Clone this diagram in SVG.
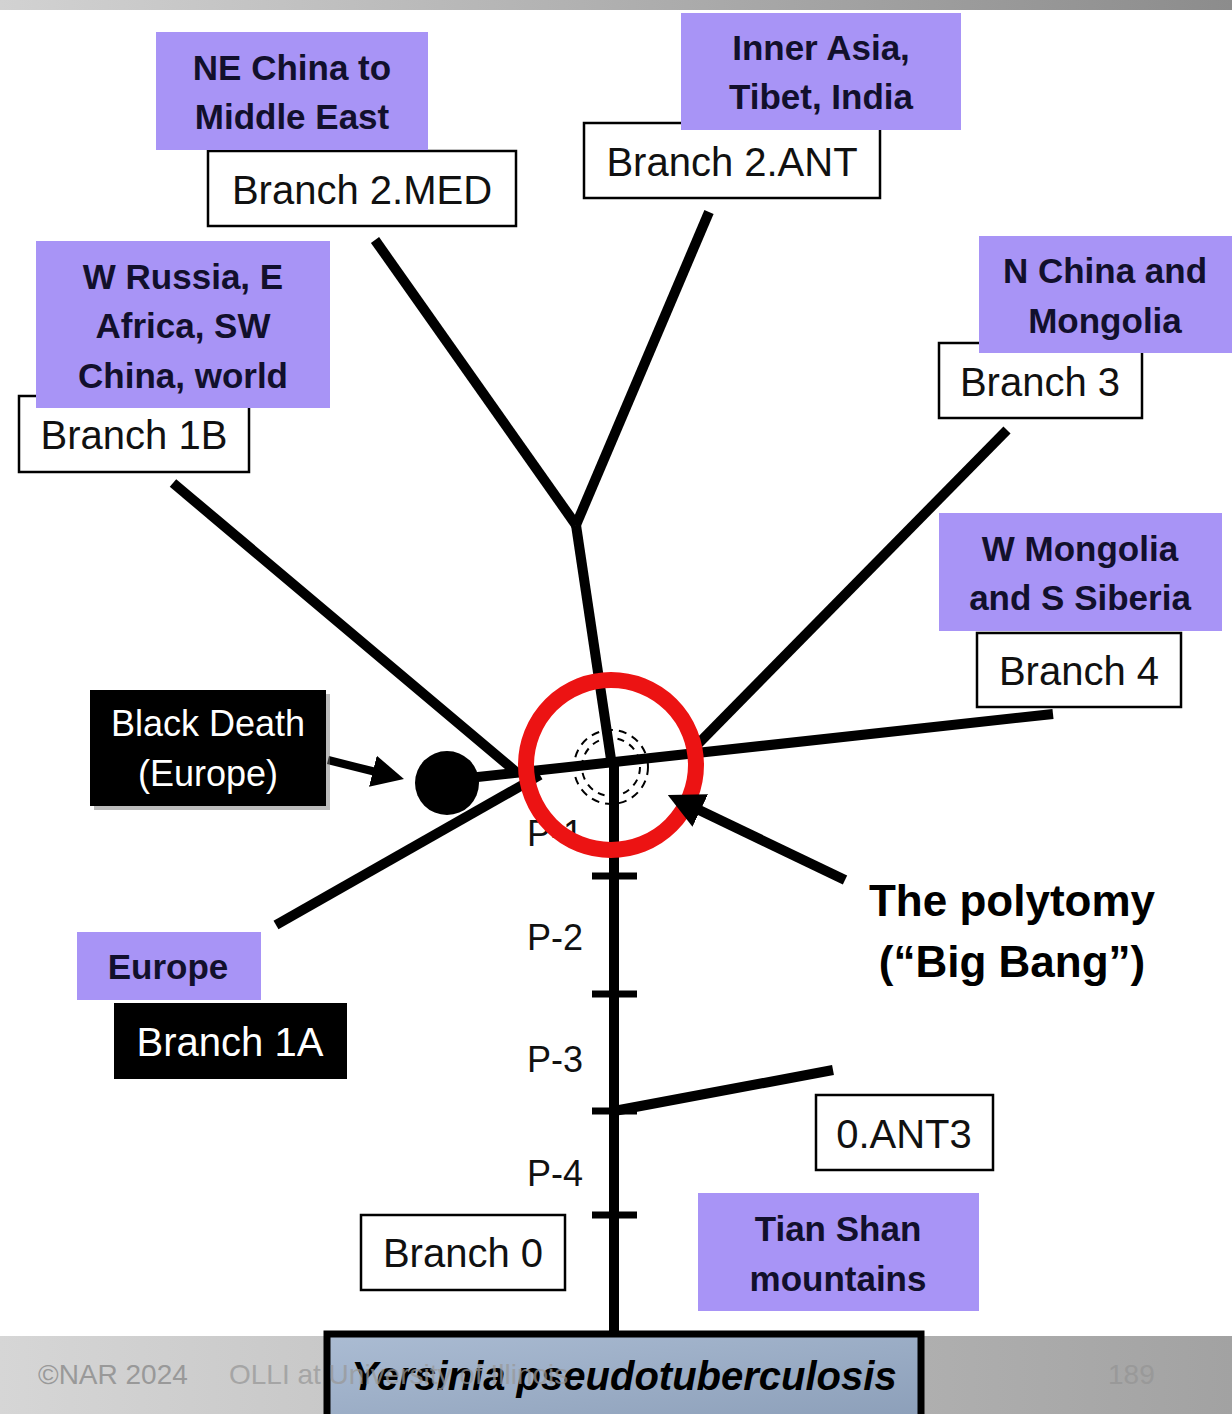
<svg xmlns="http://www.w3.org/2000/svg" width="1232" height="1414" viewBox="0 0 1232 1414">
<defs>
<linearGradient id="topbar" x1="0" y1="0" x2="1" y2="0"><stop offset="0" stop-color="#d2d2d2"/><stop offset="1" stop-color="#8c8c8c"/></linearGradient>
<linearGradient id="footbar" x1="0" y1="0" x2="1" y2="0"><stop offset="0" stop-color="#d6d6d6"/><stop offset="1" stop-color="#a2a2a2"/></linearGradient>
<linearGradient id="ybox" x1="0" y1="0" x2="1" y2="1"><stop offset="0" stop-color="#abbcd3"/><stop offset="1" stop-color="#8c9fb9"/></linearGradient>
<marker id="ah" viewBox="0 0 10 10" refX="1" refY="5" markerWidth="36" markerHeight="36" markerUnits="userSpaceOnUse" orient="auto"><path d="M0,0 L10,5 L0,10 z" fill="#000"/></marker>
<marker id="ah2" viewBox="0 0 10 10" refX="1" refY="5" markerWidth="32" markerHeight="32" markerUnits="userSpaceOnUse" orient="auto"><path d="M0,0 L10,5 L0,10 z" fill="#000"/></marker>
</defs>
<style>
.pb{fill:#a894f6}
.wb{fill:#fff;stroke:#000;stroke-width:2.5}
.bb{fill:#000}
.pt{font-family:"Liberation Sans",Arial,sans-serif;font-weight:bold;font-size:35px;fill:#12102c;text-anchor:middle}
.bt{font-family:"Liberation Sans",Arial,sans-serif;font-size:40px;fill:#111;text-anchor:middle}
.wt{font-family:"Liberation Sans",Arial,sans-serif;font-size:36px;fill:#fff;text-anchor:middle}
.br{stroke:#000;stroke-width:10;fill:none}
.tk{stroke:#000;stroke-width:7}
.pl{font-family:"Liberation Sans",Arial,sans-serif;font-size:36px;fill:#111}
.ft{font-family:"Liberation Sans",Arial,sans-serif;font-size:28px;fill:#999}
</style>
<rect x="0" y="0" width="1232" height="1414" fill="#fff"/>
<rect x="0" y="0" width="1232" height="10" fill="url(#topbar)"/>
<rect x="0" y="1336" width="1232" height="78" fill="url(#footbar)"/>

<g id="connectors">
<line class="br" x1="709" y1="212" x2="576" y2="525"/>
<line class="br" x1="375" y1="240" x2="576" y2="525"/>
<line class="br" x1="576" y1="525" x2="612" y2="766"/>
<line class="br" x1="173" y1="483" x2="515" y2="771"/>
<line class="br" x1="1007" y1="430" x2="696" y2="746"/>
<line class="br" x1="450" y1="780" x2="1053" y2="714"/>
<line class="br" x1="276" y1="925" x2="540" y2="775"/>
<line class="br" x1="614" y1="762" x2="614" y2="1334"/>
<line class="br" x1="614" y1="1111" x2="833" y2="1070"/>
<line class="tk" x1="592" y1="876" x2="637" y2="876"/>
<line class="tk" x1="592" y1="994" x2="637" y2="994"/>
<line class="tk" x1="592" y1="1111" x2="637" y2="1111"/>
<line class="tk" x1="592" y1="1215" x2="637" y2="1215"/>
<circle cx="447" cy="783" r="32" fill="#000"/>
</g>

<g id="p-labels">
<text class="pl" x="527" y="846">P-1</text>
<text class="pl" x="527" y="950">P-2</text>
<text class="pl" x="527" y="1072">P-3</text>
<text class="pl" x="527" y="1186">P-4</text>
</g>

<g id="polytomy-circle">
<circle cx="611" cy="767" r="37" fill="none" stroke="#000" stroke-width="2" stroke-dasharray="8,6"/>
<circle cx="611" cy="767" r="29" fill="none" stroke="#000" stroke-width="2" stroke-dasharray="7,6"/>
<circle cx="611" cy="765" r="85" fill="none" stroke="#ec1313" stroke-width="16"/>
</g>

<g id="arrows">
<line x1="328" y1="760" x2="376" y2="772" stroke="#000" stroke-width="8" marker-end="url(#ah2)"/>
<line x1="845" y1="880" x2="697" y2="809" stroke="#000" stroke-width="10" marker-end="url(#ah)"/>
</g>

<g id="branch-2med">
<rect class="wb" x="208" y="151" width="308" height="75"/>
<text class="bt" x="362" y="204">Branch 2.MED</text>
</g>
<g id="region-ne-china">
<rect class="pb" x="156" y="32" width="272" height="118"/>
<text class="pt" x="292" y="80">NE China to</text>
<text class="pt" x="292" y="129">Middle East</text>
</g>

<g id="branch-2ant">
<rect class="wb" x="584" y="123" width="296" height="75"/>
<text class="bt" x="732" y="176">Branch 2.ANT</text>
</g>
<g id="region-inner-asia">
<rect class="pb" x="681" y="13" width="280" height="117"/>
<text class="pt" x="821" y="60">Inner Asia,</text>
<text class="pt" x="821" y="109">Tibet, India</text>
</g>

<g id="branch-1b">
<rect class="wb" x="19" y="396" width="230" height="76"/>
<text class="bt" x="134" y="449">Branch 1B</text>
</g>
<g id="region-w-russia">
<rect class="pb" x="36" y="241" width="294" height="167"/>
<text class="pt" x="183" y="289">W Russia, E</text>
<text class="pt" x="183" y="338">Africa, SW</text>
<text class="pt" x="183" y="388">China, world</text>
</g>

<g id="branch-3">
<rect class="wb" x="939" y="343" width="203" height="75"/>
<text class="bt" x="1040" y="396">Branch 3</text>
</g>
<g id="region-n-china">
<rect class="pb" x="979" y="236" width="253" height="117"/>
<text class="pt" x="1105" y="283">N China and</text>
<text class="pt" x="1105" y="333">Mongolia</text>
</g>

<g id="region-w-mongolia">
<rect class="pb" x="939" y="513" width="283" height="118"/>
<text class="pt" x="1080" y="561">W Mongolia</text>
<text class="pt" x="1080" y="610">and S Siberia</text>
</g>
<g id="branch-4">
<rect class="wb" x="977" y="633" width="204" height="74"/>
<text class="bt" x="1079" y="685">Branch 4</text>
</g>

<g id="black-death">
<rect x="94" y="694" width="236" height="116" fill="#777" opacity="0.5"/>
<rect class="bb" x="90" y="690" width="236" height="116"/>
<text class="wt" x="208" y="736">Black Death</text>
<text class="wt" x="208" y="786">(Europe)</text>
</g>

<g id="region-europe">
<rect class="pb" x="77" y="932" width="184" height="68"/>
<text class="pt" x="168" y="979">Europe</text>
</g>
<g id="branch-1a">
<rect class="bb" x="114" y="1003" width="233" height="76"/>
<text class="wt" x="230" y="1056" style="font-size:40px">Branch 1A</text>
</g>

<g id="polytomy-label">
<text x="1012" y="916" style="font-family:'Liberation Sans',Arial,sans-serif;font-weight:bold;font-size:44px;fill:#000;text-anchor:middle">The polytomy</text>
<text x="1012" y="977" style="font-family:'Liberation Sans',Arial,sans-serif;font-weight:bold;font-size:44px;fill:#000;text-anchor:middle">(“Big Bang”)</text>
</g>

<g id="branch-0ant3">
<rect class="wb" x="816" y="1095" width="177" height="75"/>
<text class="bt" x="904" y="1148">0.ANT3</text>
</g>

<g id="region-tian-shan">
<rect class="pb" x="698" y="1193" width="281" height="118"/>
<text class="pt" x="838" y="1241">Tian Shan</text>
<text class="pt" x="838" y="1291">mountains</text>
</g>

<g id="branch-0">
<rect class="wb" x="361" y="1215" width="204" height="75"/>
<text class="bt" x="463" y="1267">Branch 0</text>
</g>

<g id="root">
<rect x="327" y="1334" width="594" height="84" fill="url(#ybox)" stroke="#000" stroke-width="7"/>
<text x="624" y="1390" style="font-family:'Liberation Sans',Arial,sans-serif;font-weight:bold;font-style:italic;font-size:40px;fill:#000;text-anchor:middle">Yersinia pseudotuberculosis</text>
</g>

<g id="footer">
<text class="ft" x="38" y="1384">©NAR 2024</text>
<text class="ft" x="229" y="1384" opacity="0.75">OLLI at University of Illinois</text>
<text class="ft" x="1108" y="1384">189</text>
</g>
</svg>
